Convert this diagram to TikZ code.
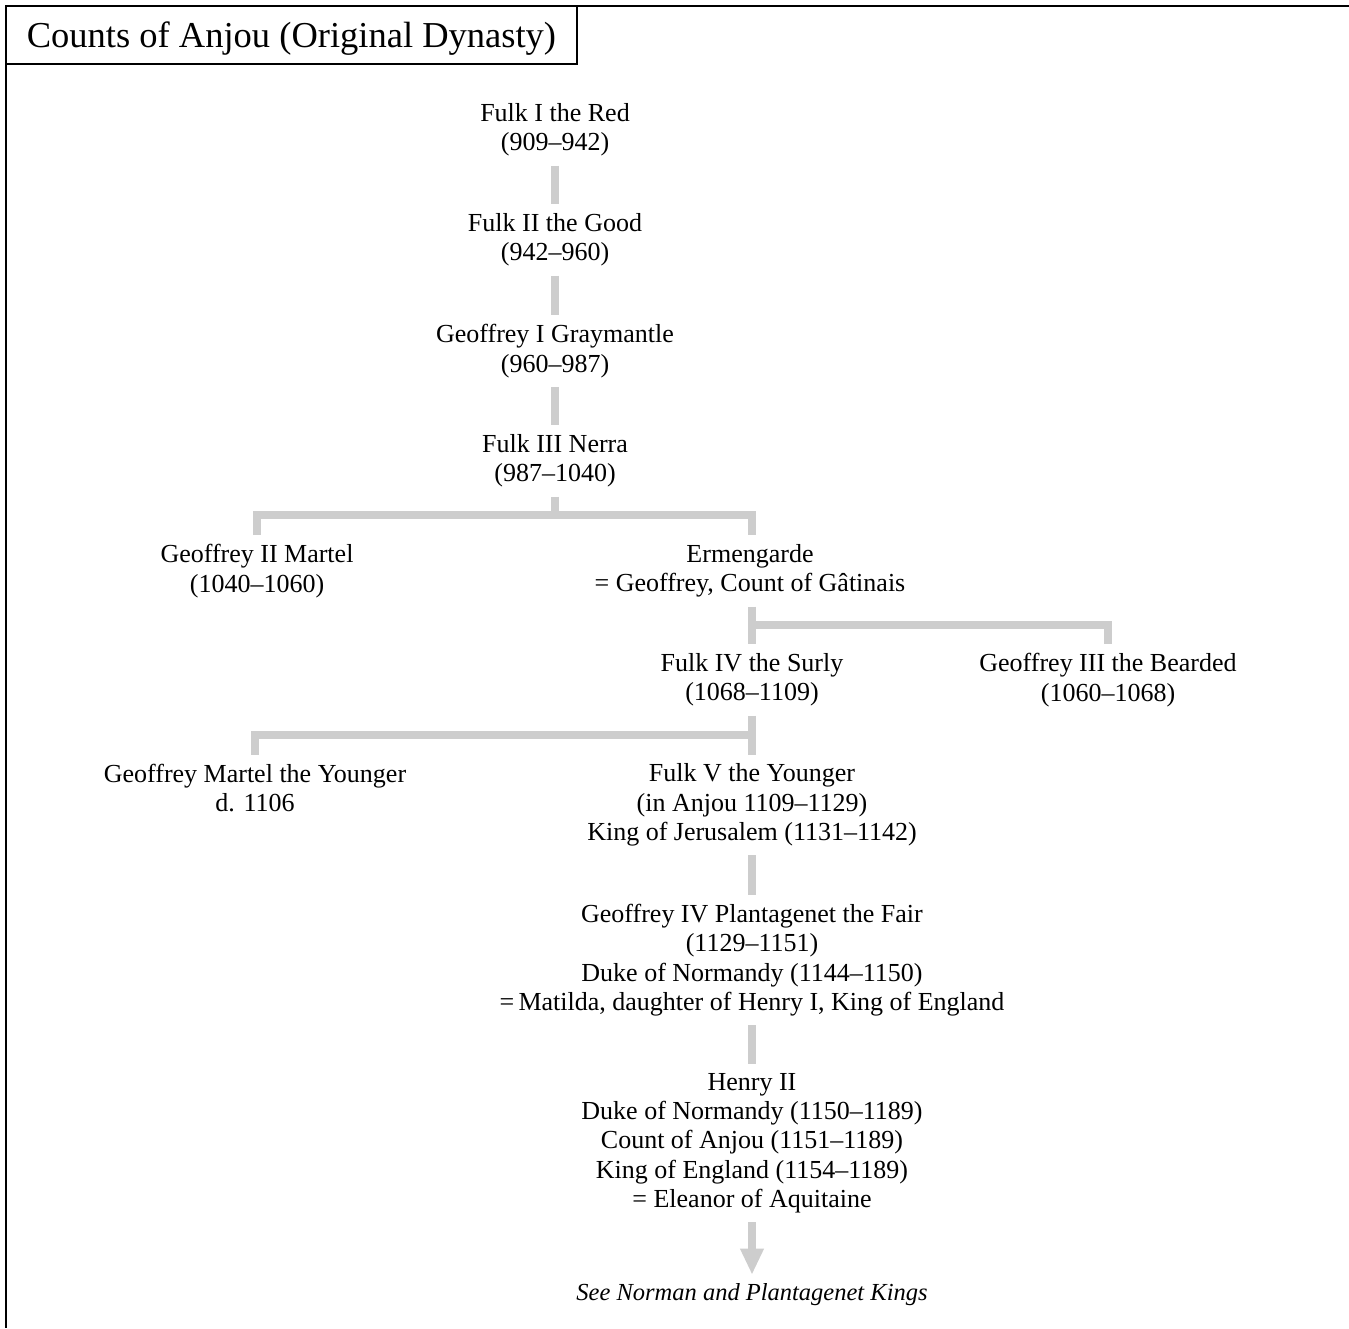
\documentclass[tikz,border=0pt]{standalone}
\usepackage{fontspec}
\setmainfont{Liberation Serif}
\usetikzlibrary{arrows.meta}
\definecolor{linkgray}{HTML}{CDCDCD}

\begin{document}
\begin{tikzpicture}[x=1pt,y=-1pt,
  count/.style={align=center,inner xsep=0pt,inner ysep=9pt,font=\fontsize{26}{29.3}\selectfont},
  link/.style={draw=linkgray,line width=8pt},
  onward/.style={link,-{Triangle[width=22pt,length=26pt]}}]
  \useasboundingbox (0,0) rectangle (1349,1328);
  \draw[line width=2.3pt] (1349,6) -- (6,6) -- (6,1328);
  \node[draw,line width=1.4pt,minimum width=571pt,minimum height=58pt,text depth=0pt,
    font=\fontsize{36.5}{40}\selectfont] (title) at (291.5,35) {Counts of Anjou (Original Dynasty)};
  \node[count] (fulkI) at (555,130) {Fulk I the Red\\(909--942)};
  \node[count] (fulkII) at (555,240) {Fulk II the Good\\(942--960)};
  \node[count] (geoffI) at (555,351) {Geoffrey I Graymantle\\(960--987)};
  \node[count] (fulkIII) at (555,461) {Fulk III Nerra\\(987--1040)};
  \node[count] (geoffII) at (257,571) {Geoffrey II Martel\\(1040--1060)};
  \node[count] (ermen) at (750,571) {Ermengarde\\= Geoffrey, Count of Gâtinais};
  \node[count] (fulkIV) at (752,680) {Fulk IV the Surly\\(1068--1109)};
  \node[count] (geoffIII) at (1108,680) {Geoffrey III the Bearded\\(1060--1068)};
  \node[count] (geoffMY) at (255,788) {Geoffrey Martel the Younger\\d. 1106};
  \node[count] (fulkV) at (752,805) {Fulk V the Younger\\(in Anjou 1109--1129)\\King of Jerusalem (1131--1142)};
  \node[count] (geoffIV) at (752,960) {Geoffrey IV Plantagenet the Fair\\(1129--1151)\\Duke of Normandy (1144--1150)\\=\,Matilda, daughter of Henry I, King of England};
  \node[count] (henryII) at (752,1143) {Henry II\\Duke of Normandy (1150--1189)\\Count of Anjou (1151--1189)\\King of England (1154--1189)\\= Eleanor of Aquitaine};
  \node[count,font=\fontsize{24.5}{29.3}\selectfont\itshape] (seealso) at (752,1295) {See Norman and Plantagenet Kings};
  \draw[link] (fulkI) -- (fulkII);
  \draw[link] (fulkII) -- (geoffI);
  \draw[link] (geoffI) -- (fulkIII);
  \draw[link] (fulkIII.south) -- ++(0,18) coordinate (split1);
  \draw[link] (geoffII.north) |- (split1) -| (ermen.north -| fulkIV.north);
  \draw[link] (ermen.south -| fulkIV.north) -- (fulkIV.north);
  \draw[link] (ermen.south -| fulkIV.north) ++(0,18) -| (geoffIII.north);
  \draw[link] (fulkIV) -- (fulkV);
  \draw[link] (fulkIV.south) ++(0,19) -| (geoffMY.north);
  \draw[link] (fulkV) -- (geoffIV);
  \draw[link] (geoffIV) -- (henryII);
  \draw[onward] (henryII) -- (seealso);
\end{tikzpicture}
\end{document}
